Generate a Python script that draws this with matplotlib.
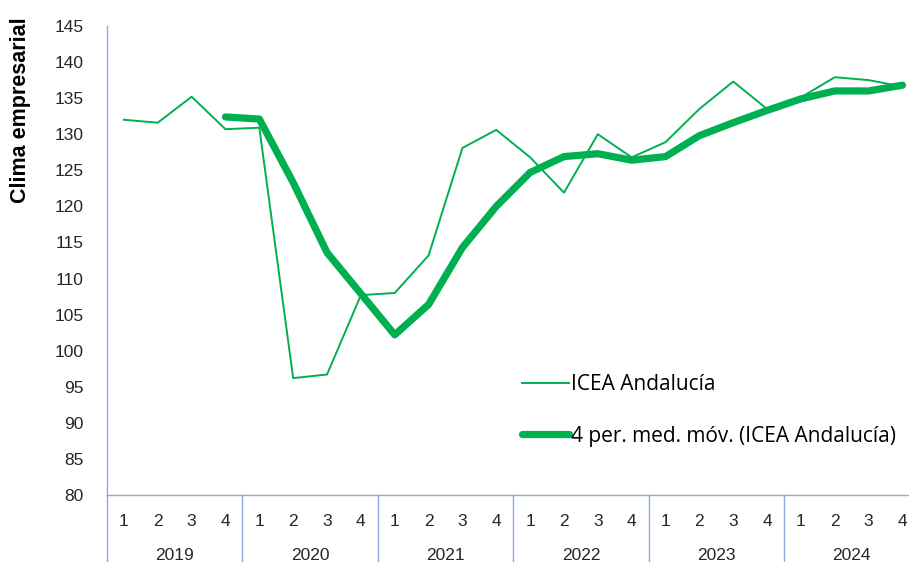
import matplotlib.pyplot as plt
import matplotlib.transforms as mtransforms

years = ['2019', '2020', '2021', '2022', '2023', '2024']
quarters = ['1', '2', '3', '4']

# ICEA Andalucía, trimestral
icea = [132.0, 131.6, 135.2, 130.7,
        130.9, 96.2, 96.7, 107.7,
        108.0, 113.2, 128.1, 130.6,
        126.8, 121.9, 130.0, 126.8,
        128.9, 133.5, 137.3, 133.5,
        135.1, 137.9, 137.5, 136.6]

# media móvil de 4 periodos (empieza en 2019 T4)
media_movil = [None, None, None, 132.4,
               132.1, 123.3, 113.6, 107.9,
               102.2, 106.4, 114.3, 120.0,
               124.7, 126.9, 127.3, 126.4,
               126.9, 129.8, 131.6, 133.3,
               134.9, 136.0, 136.0, 136.8]

verde = '#00B050'
azul = '#8EA9DB'
W, H = 909, 562

fig = plt.figure(figsize=(W / 100, H / 100), dpi=100)
ax = fig.add_axes([107 / W, (H - 495) / H, (919.4 - 107) / W, (495 - 26) / H])

n = len(icea)
x = list(range(n))
xm = [i for i in x if media_movil[i] is not None]
ym = [media_movil[i] for i in xm]

ax.plot(x, icea, color=verde, lw=1.4, label='ICEA Andalucía')
ax.plot(xm, ym, color=verde, lw=5.2, solid_capstyle='round', solid_joinstyle='round',
        label='4 per. med. móv. (ICEA Andalucía)')

ax.set_xlim(-0.5, n - 0.5)
ax.set_ylim(80, 145)
ax.set_yticks(range(80, 146, 5))
ax.tick_params(axis='y', length=0, pad=17, labelsize=12.5, labelcolor='#262626')
for lab in ax.get_yticklabels():
    lab.set_fontfamily('Liberation Sans')

ax.set_xticks(x)
ax.set_xticklabels(quarters * len(years), fontfamily='Liberation Sans', fontsize=12.5, color='#262626')
ax.tick_params(axis='x', length=0, pad=14)

for s in ['top', 'right']:
    ax.spines[s].set_visible(False)
for s in ['left', 'bottom']:
    ax.spines[s].set_color(azul)
    ax.spines[s].set_linewidth(1.0)

# separadores de año y etiquetas de año
trans = mtransforms.blended_transform_factory(ax.transData, ax.transAxes)
depth = -(H - 495) / (495 - 26)
for k in range(len(years) + 1):
    ax.plot([4 * k - 0.5, 4 * k - 0.5], [0, depth], color=azul, lw=1.0,
            transform=trans, clip_on=False)
for k, yr in enumerate(years):
    ax.text(4 * k + 1.5, -(555 - 495) / (495 - 26), yr, transform=trans,
            ha='center', va='center', fontsize=12.5, fontfamily='Liberation Sans',
            color='#262626')

fig.text(21 / W, 1 - 110 / H, 'Clima empresarial', rotation=90, ha='center', va='center',
         fontsize=15.5, fontweight='bold', fontfamily='Liberation Sans')

leg = ax.legend(loc='upper left', bbox_to_anchor=(514 / W, 1 - 366 / H),
                bbox_transform=fig.transFigure, frameon=False,
                prop={'family': 'Open Sans', 'size': 15}, handlelength=2.25,
                handletextpad=0.1, labelspacing=1.45, borderaxespad=0)

fig.savefig('out.png', dpi=100)
